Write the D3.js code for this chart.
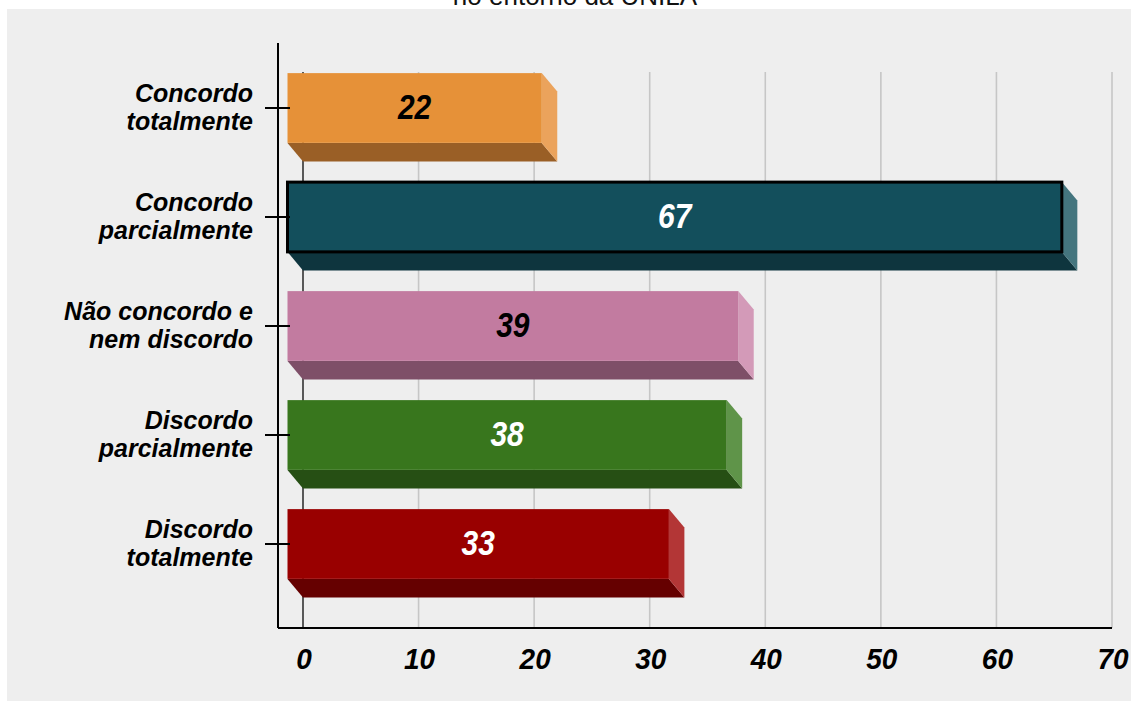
<!DOCTYPE html>
<html>
<head>
<meta charset="utf-8">
<script src="https://cdn.jsdelivr.net/npm/d3@7"></script>
<style>
  body { margin: 0; background: #ffffff; }
  text { font-family: "Liberation Sans", Arial, sans-serif; }
</style>
</head>
<body>
<svg id="chart" width="1131" height="702"></svg>
<script>
// Survey answers (two-line category labels split on "\n")
const categories = [
  "Concordo\ntotalmente",
  "Concordo\nparcialmente",
  "Não concordo e\nnem discordo",
  "Discordo\nparcialmente",
  "Discordo\ntotalmente"
];
const values = [22, 67, 39, 38, 33];
const xTicks = [0, 10, 20, 30, 40, 50, 60, 70];
const titleText = "no entorno da UNILA";

// Face colours of each 3D bar: front, right side, bottom
const frontColors  = ["#e69138", "#134f5c", "#c27ba0", "#38761d", "#990000"];
const sideColors   = ["#eba35c", "#44757e", "#d39ab8", "#5f9449", "#b33636"];
const bottomColors = ["#9a5f26", "#0e353e", "#7e4f68", "#264f14", "#650000"];
const labelColors  = ["#000000", "#ffffff", "#000000", "#ffffff", "#ffffff"];
const highlighted = 1;

const svg = d3.select("#chart");

// panel background
svg.append("rect").attr("x", 7).attr("y", 9).attr("width", 1124).attr("height", 692)
  .attr("fill", "#eeeeee");

svg.append("text").attr("x", 575).attr("y", 5).attr("text-anchor", "middle")
  .attr("font-size", 26).attr("fill", "#111").text(titleText);

const x = d3.scaleLinear().domain([0, 70]).range([303, 1112]);
const y = d3.scaleBand().domain(categories).range([53.5, 598.5])
  .paddingInner(0.36).paddingOuter(0.18);

const axisY = 628, axisX = 278;
const dx = 15.5, dy = 18.5;   // 3D depth offset
const gridTop = y(categories[0]) - 1;

// vertical grid lines
svg.append("g").selectAll("line").data(xTicks).join("line")
  .attr("x1", d => x(d)).attr("x2", d => x(d))
  .attr("y1", gridTop).attr("y2", axisY)
  .attr("stroke", d => d === 0 ? "#333333" : "#c6c6c6")
  .attr("stroke-width", 1.6);

// bars
const bars = svg.append("g").selectAll("g").data(categories).join("g");
bars.each(function(c, i) {
  const g = d3.select(this);
  const top = y(c), h = y.bandwidth();
  const x0 = x(0), xv = x(values[i]);
  // bottom face
  g.append("polygon")
    .attr("points", [[x0 - dx, top + h], [xv - dx, top + h], [xv, top + h + dy], [x0, top + h + dy]].join(" "))
    .attr("fill", bottomColors[i]);
  // right side face
  g.append("polygon")
    .attr("points", [[xv - dx, top], [xv, top + dy], [xv, top + h + dy], [xv - dx, top + h]].join(" "))
    .attr("fill", sideColors[i]);
  // front face
  g.append("rect")
    .attr("x", x0 - dx).attr("y", top)
    .attr("width", xv - x0).attr("height", h)
    .attr("fill", frontColors[i])
    .attr("stroke", i === highlighted ? "#000" : "none")
    .attr("stroke-width", 3);
  // value label (slightly tall glyphs)
  g.append("text")
    .attr("transform", `translate(${(x0 + xv) / 2 - dx},${top + h / 2 + 11}) scale(1,1.14)`)
    .attr("text-anchor", "middle")
    .attr("font-size", 30).attr("font-weight", "bold").attr("font-style", "italic")
    .attr("fill", labelColors[i])
    .text(values[i]);
});

// axis lines
svg.append("line").attr("x1", axisX).attr("x2", axisX).attr("y1", 43).attr("y2", axisY)
  .attr("stroke", "#000").attr("stroke-width", 2);
svg.append("line").attr("x1", axisX).attr("x2", x(70)).attr("y1", axisY).attr("y2", axisY)
  .attr("stroke", "#000").attr("stroke-width", 2);

// category ticks and labels
const cat = svg.append("g").selectAll("g").data(categories).join("g")
  .attr("transform", d => `translate(0,${y(d) + y.bandwidth() / 2})`);
cat.append("line").attr("x1", 265).attr("x2", 290).attr("stroke", "#000").attr("stroke-width", 2);
cat.append("text")
  .attr("text-anchor", "end")
  .attr("font-size", 25).attr("font-weight", "bold").attr("font-style", "italic")
  .attr("fill", "#000")
  .selectAll("tspan").data(d => d.split("\n")).join("tspan")
  .attr("x", 253).attr("y", (d, j) => j === 0 ? -6.5 : 21.5)
  .text(d => d);

// value axis labels
svg.append("g").selectAll("text").data(xTicks).join("text")
  .attr("transform", d => `translate(${x(d) + 1},669) scale(1,1.08)`)
  .attr("text-anchor", "middle")
  .attr("font-size", 28).attr("font-weight", "bold").attr("font-style", "italic")
  .attr("fill", "#000")
  .text(d => d);
</script>
</body>
</html>
